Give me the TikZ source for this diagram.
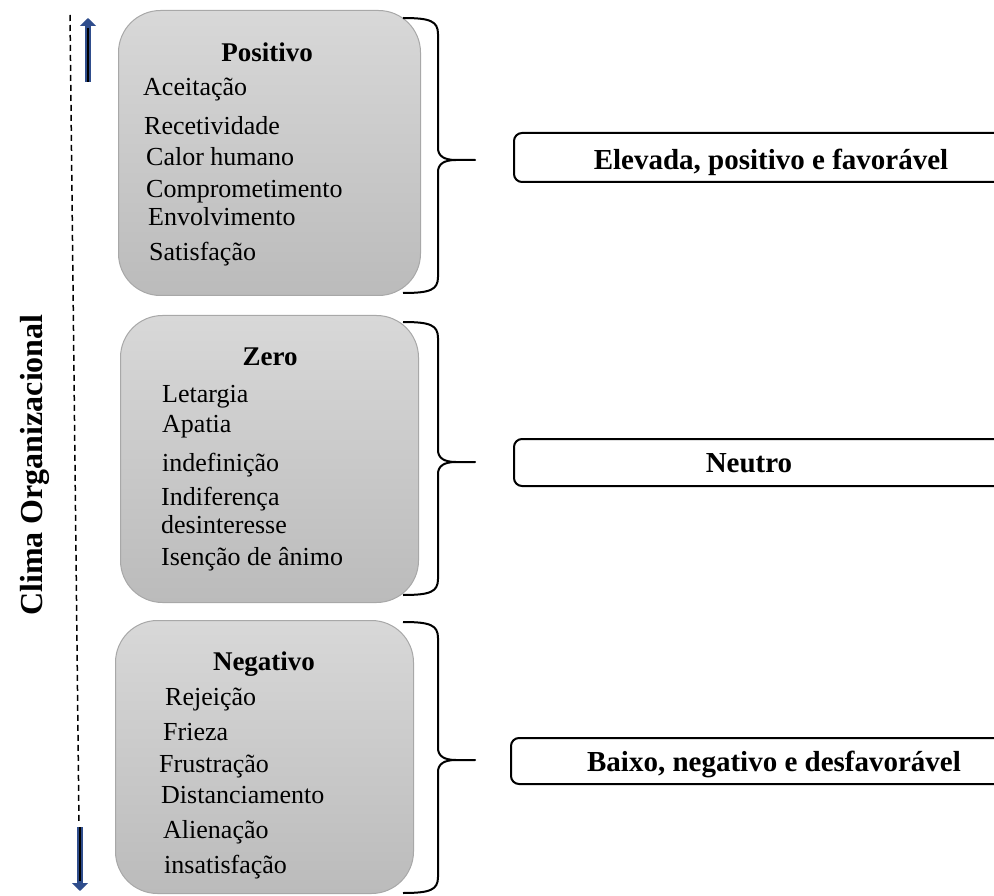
\documentclass[tikz,border=0pt]{standalone}
\usepackage{fontspec}
\setmainfont{Liberation Serif}
\usetikzlibrary{arrows.meta}

\definecolor{boxtop}{HTML}{D8D8D8}
\definecolor{boxbot}{HTML}{BBBBBB}
\definecolor{boxline}{HTML}{A8A8A8}
\definecolor{arrowblue}{HTML}{2F4D8C}

% right curly brace: top y, tip y, bottom y, name of the tip
\newcommand\curlybrace[4]{%
  \coordinate (#4) at (475,#2);
  \draw[brace] (403,#1) .. controls (430,#1) and (438,#1+3) .. (438,#1+16)
    -- (438,#2-12) .. controls (438,#2-4) and (444,#2) .. (456,#2) -- (#4) -- (456,#2)
    .. controls (444,#2) and (438,#2+4) .. (438,#2+12)
    -- (438,#3-16) .. controls (438,#3-3) and (430,#3) .. (403,#3);
}

\begin{document}
\begin{tikzpicture}[x=1pt,y=-1pt,
  graybox/.style={draw=boxline, line width=1pt, rounded corners=42pt,
    top color=boxtop, bottom color=boxbot, anchor=north west, inner sep=0pt},
  item/.style={anchor=base west, inner sep=0pt, font=\fontsize{26}{30}\selectfont},
  boxtitle/.style={anchor=base, inner sep=0pt, font=\bfseries\fontsize{27}{32}\selectfont},
  resultbox/.style={draw, line width=2pt, rounded corners=8pt, anchor=north west, inner sep=0pt},
  result/.style={anchor=base, inner sep=0pt, font=\bfseries\fontsize{29}{34}\selectfont},
  brace/.style={line width=2pt, line join=round},
  axisline/.style={line width=1.5pt, dash pattern=on 6pt off 4pt},
  bluearrow/.style={arrowblue, line width=6pt, -{Triangle[length=8pt,width=16pt]}},
  arrowcore/.style={black, line width=2pt},
]
\clip (0,0) rectangle (994,896);

% vertical axis with its two arrows
\coordinate (axtop) at (70,15);
\coordinate (axbot) at (79,824);
\draw[axisline] (axtop) -- (axbot);

\coordinate (uptail) at (88,82);
\coordinate (uptip) at (88,18);
\coordinate (upcore) at (88,28);
\draw[bluearrow] (uptail) -- (uptip);
\draw[arrowcore] (uptail) -- (upcore);

\coordinate (downtail) at (80,827);
\coordinate (downtip) at (80,891);
\coordinate (downcore) at (80,881);
\draw[bluearrow] (downtail) -- (downtip);
\draw[arrowcore] (downtail) -- (downcore);

\node[rotate=90, anchor=base, inner sep=0pt, font=\bfseries\fontsize{32}{36}\selectfont]
  (axislabel) at (42,465) {Clima Organizacional};

% the three climate boxes
\node[graybox, minimum width=302pt, minimum height=285pt] (pos) at (118,10) {};
\node[graybox, minimum width=298pt, minimum height=287pt] (zero) at (120,315) {};
\node[graybox, minimum width=298pt, minimum height=273pt] (neg) at (115,620) {};

\node[boxtitle] (postitle) at (267,62) {Positivo};
\node[item] (p1) at (143,96) {Aceitação};
\node[item] (p2) at (144,135) {Recetividade};
\node[item] (p3) at (146,166) {Calor humano};
\node[item] (p4) at (146,198) {Comprometimento};
\node[item] (p5) at (148,226) {Envolvimento};
\node[item] (p6) at (149,261) {Satisfação};

\node[boxtitle] (zerotitle) at (270,365) {Zero};
\node[item] (z1) at (162,402) {Letargia};
\node[item] (z2) at (162,432) {Apatia};
\node[item] (z3) at (162,471) {indefinição};
\node[item] (z4) at (161,505) {Indiferença};
\node[item] (z5) at (161,533) {desinteresse};
\node[item] (z6) at (161,565) {Isenção de ânimo};

\node[boxtitle] (negtitle) at (264,670) {Negativo};
\node[item] (n1) at (165,705) {Rejeição};
\node[item] (n2) at (163,740) {Frieza};
\node[item] (n3) at (159,772) {Frustração};
\node[item] (n4) at (161,803) {Distanciamento};
\node[item] (n5) at (163,838) {Alienação};
\node[item] (n6) at (164,873) {insatisfação};

% braces grouping each box
\curlybrace{18}{160}{293}{tippos}
\curlybrace{322}{462}{595}{tipzero}
\curlybrace{622}{760}{893}{tipneg}

% outcome boxes, running off the right edge
\node[resultbox, minimum width=510pt, minimum height=49pt] (rpos) at (513,132) {};
\node[resultbox, minimum width=510pt, minimum height=47pt] (rzero) at (513,438) {};
\node[resultbox, minimum width=510pt, minimum height=46pt] (rneg) at (510,737) {};

\node[result] (rpostext) at (771,170) {Elevada, positivo e favorável};
\node[result] (rzerotext) at (749,472) {Neutro};
\node[result] (rnegtext) at (774,771) {Baixo, negativo e desfavorável};
\end{tikzpicture}
\end{document}
